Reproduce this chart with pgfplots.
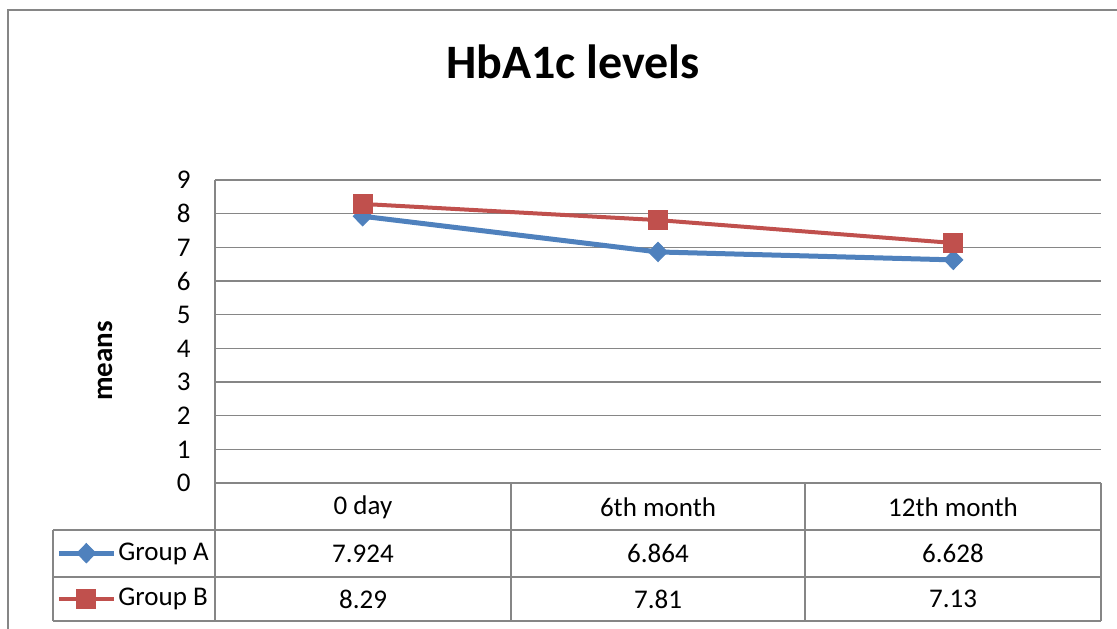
\documentclass[border=0pt]{standalone}
\usepackage{pgfplots}
\pgfplotsset{compat=1.18}
\usepackage{fontspec}
\setmainfont{Carlito}

\definecolor{gridgray}{RGB}{134,134,134}
\definecolor{xlblue}{RGB}{79,129,189}
\definecolor{xlred}{RGB}{192,80,77}

\begin{document}
\begin{tikzpicture}[x=0.5pt,y=-0.5pt]
\useasboundingbox (0,0) rectangle (1117,628);
% outer chart frame (cut off at right and bottom)
\draw[gridgray, line width=1pt] (8,640) -- (8,10) -- (1130,10);
\node[font=\fontsize{24}{28}\selectfont\bfseries] at (573,62) {HbA1c levels};

\begin{axis}[
  at={(107.5pt,-241.5pt)}, anchor=south west,
  scale only axis, width=443pt, height=151.5pt,
  xmin=-0.5, xmax=2.5, ymin=0, ymax=9,
  xtick=\empty, ytick={0,1,...,9},
  ymajorgrids, grid style={gridgray, line width=0.75pt},
  axis line style={draw=none}, major tick length=0pt,
  tick label style={font=\fontsize{13.5}{15}\selectfont},
  /pgf/number format/assume math mode=true,
  yticklabel style={anchor=east, inner sep=0pt, xshift=-12pt},
  ylabel={means},
  ylabel style={font=\fontsize{14.5}{16}\selectfont\bfseries, at={(axis description cs:-0.124,0.4026)}, anchor=center},
  clip=false,
  legend image code/.code={\draw[mark repeat=2,mark phase=2] plot coordinates {(0pt,0pt) (13.75pt,0pt) (27.5pt,0pt)};},
  legend style={at={(axis description cs:-0.1795,-0.1551)}, anchor=north west,
    draw=none, fill=none, inner sep=0pt, row sep=0pt,
    nodes={inner xsep=1pt, inner ysep=0pt, minimum height=22.75pt, font=\fontsize{13.5}{15}\selectfont}},
  legend cell align=left,
]
\addplot[color=xlblue, line width=2.5pt, mark=diamond*, mark size=4.8pt,
  mark options={solid, xscale=1.3, line width=0.5pt, fill=xlblue}]
  coordinates {(0,7.924) (1,6.864) (2,6.628)};
\addlegendentry{Group A}
\addplot[color=xlred, line width=2pt, mark=square*, mark size=4.7pt,
  mark options={solid, line width=0.5pt, fill=xlred}]
  coordinates {(0,8.29) (1,7.81) (2,7.13)};
\addlegendentry{Group B}
\end{axis}

% data table grid
\begin{scope}[gridgray, line width=0.75pt]
\draw (215,180) -- (215,621);
\draw (215,530) -- (1101,530);
\draw (53,530) -- (215,530);
\draw (53,577) -- (1101,577);
\draw (53,621) -- (1101,621);
\draw (53,530) -- (53,621);
\draw (511,483) -- (511,621);
\draw (805,483) -- (805,621);
\draw (1101,483) -- (1101,621);
\end{scope}
\begin{scope}[font=\fontsize{13.5}{15}\selectfont]
\node at (363,507) {0 day};
\node at (658,507) {6th month};
\node at (953,507) {12th month};
\node at (363,553.5) {7.924};
\node at (658,553.5) {6.864};
\node at (953,553.5) {6.628};
\node at (363,599) {8.29};
\node at (658,599) {7.81};
\node at (953,599) {7.13};
\end{scope}
\end{tikzpicture}
\end{document}
